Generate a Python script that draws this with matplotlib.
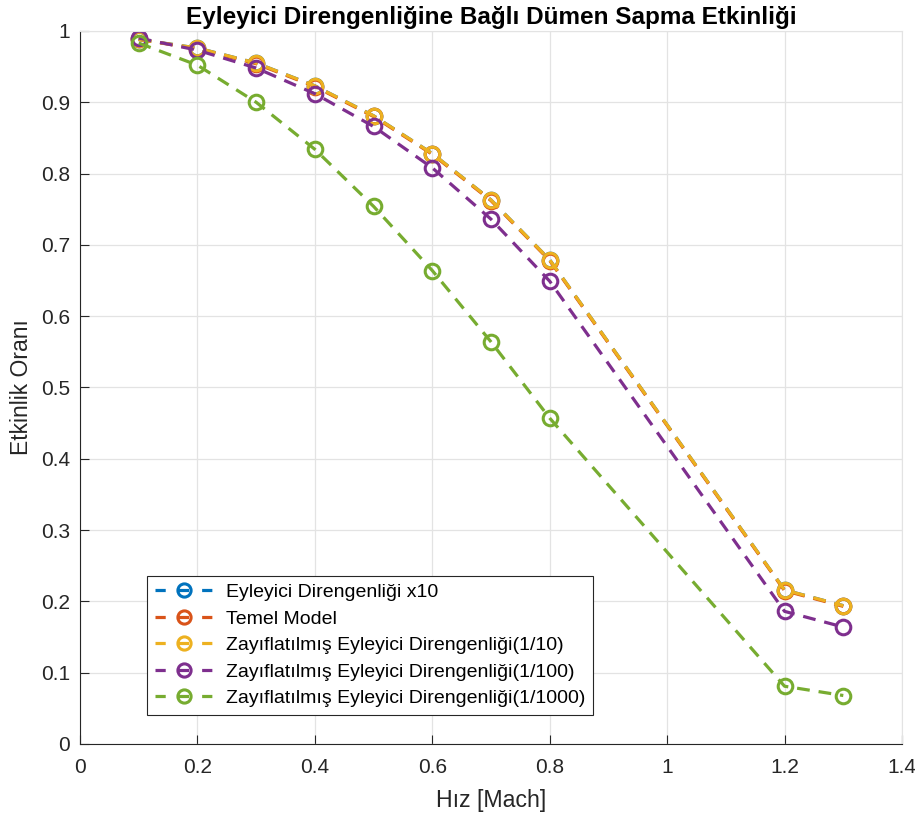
import numpy as np
import matplotlib
matplotlib.use("Agg")
import matplotlib.pyplot as plt
from matplotlib.lines import Line2D

plt.rcParams['font.family'] = ['Liberation Sans', 'DejaVu Sans']

# Data
mach = [0.1, 0.2, 0.3, 0.4, 0.5, 0.6, 0.7, 0.8, 1.2, 1.3]

stiff_x10 = [0.988, 0.976, 0.955, 0.923, 0.881, 0.828, 0.763, 0.679, 0.216, 0.194]
base_model = [0.988, 0.975, 0.954, 0.922, 0.880, 0.827, 0.762, 0.678, 0.215, 0.193]
weak_10 = [0.988, 0.976, 0.955, 0.923, 0.881, 0.828, 0.763, 0.679, 0.216, 0.194]
weak_100 = [0.990, 0.973, 0.948, 0.912, 0.866, 0.808, 0.736, 0.649, 0.186, 0.164]
weak_1000 = [0.983, 0.952, 0.900, 0.834, 0.754, 0.664, 0.564, 0.457, 0.081, 0.068]

labels = [
    "Eyleyici Direngenliği x10",
    "Temel Model",
    "Zayıflatılmış Eyleyici Direngenliği(1/10)",
    "Zayıflatılmış Eyleyici Direngenliği(1/100)",
    "Zayıflatılmış Eyleyici Direngenliği(1/1000)",
]
colors = ["#0072BD", "#D95319", "#EDB120", "#7E2F8E", "#77AC30"]
series = [stiff_x10, base_model, weak_10, weak_100, weak_1000]

xticks = [0, 0.2, 0.4, 0.6, 0.8, 1.0, 1.2, 1.4]
xtick_labels = ["0", "0.2", "0.4", "0.6", "0.8", "1", "1.2", "1.4"]
yticks = [0, 0.1, 0.2, 0.3, 0.4, 0.5, 0.6, 0.7, 0.8, 0.9, 1.0]
ytick_labels = ["0", "0.1", "0.2", "0.3", "0.4", "0.5", "0.6", "0.7", "0.8", "0.9", "1"]

fig = plt.figure(figsize=(9.15, 8.14), dpi=100)
ax = fig.add_axes([0.0874, 0.086, 0.8984, 0.876])

for vals, lab, col in zip(series, labels, colors):
    ax.plot(mach, vals, color=col, linestyle=(0, (4.0, 2.8)), linewidth=2.3,
            marker='o', markersize=10.5, markerfacecolor='none',
            markeredgewidth=2.2, label=lab)

ax.set_xlim(0, 1.4)
ax.set_ylim(0, 1)
ax.set_xticks(xticks)
ax.set_xticklabels(xtick_labels)
ax.set_yticks(yticks)
ax.set_yticklabels(ytick_labels)
ax.tick_params(axis='both', direction='in', length=6.5, width=0.8,
               labelsize=15, colors='#262626')
ax.tick_params(axis='x', pad=10)
ax.tick_params(axis='y', pad=7)

ax.grid(True, color='#e3e3e3', linewidth=0.9)
ax.set_axisbelow(True)
for side in ['left', 'bottom']:
    ax.spines[side].set_color('#262626')
    ax.spines[side].set_linewidth(0.8)
for side in ['top', 'right']:
    ax.spines[side].set_color('#e3e3e3')

ax.set_xlabel("Hız [Mach]", fontsize=16.7, color='#262626', labelpad=9)
ax.set_ylabel("Etkinlik Oranı", fontsize=16.5, color='#262626', labelpad=6)
ax.set_title("Eyleyici Direngenliğine Bağlı Dümen Sapma Etkinliği",
             fontsize=17.5, fontweight='bold', pad=5)

# legend handles: dash - marker - dash, like the original
handles = [Line2D([], [], color=col, linestyle=(0, (3.2, 4.1)), linewidth=2.3,
                  marker='o', markersize=9.5, markerfacecolor='none',
                  markeredgewidth=2.2)
           for col in colors]
leg = ax.legend(handles, labels, loc='lower left',
                bbox_to_anchor=(0.0815, 0.0407),
                borderaxespad=0, fontsize=14, fancybox=False,
                framealpha=1, edgecolor='#262626', handlelength=3.05,
                handletextpad=0.6, labelspacing=0.46, borderpad=0.4)
leg.get_frame().set_linewidth(0.8)

fig.savefig("out.png", dpi=100)
